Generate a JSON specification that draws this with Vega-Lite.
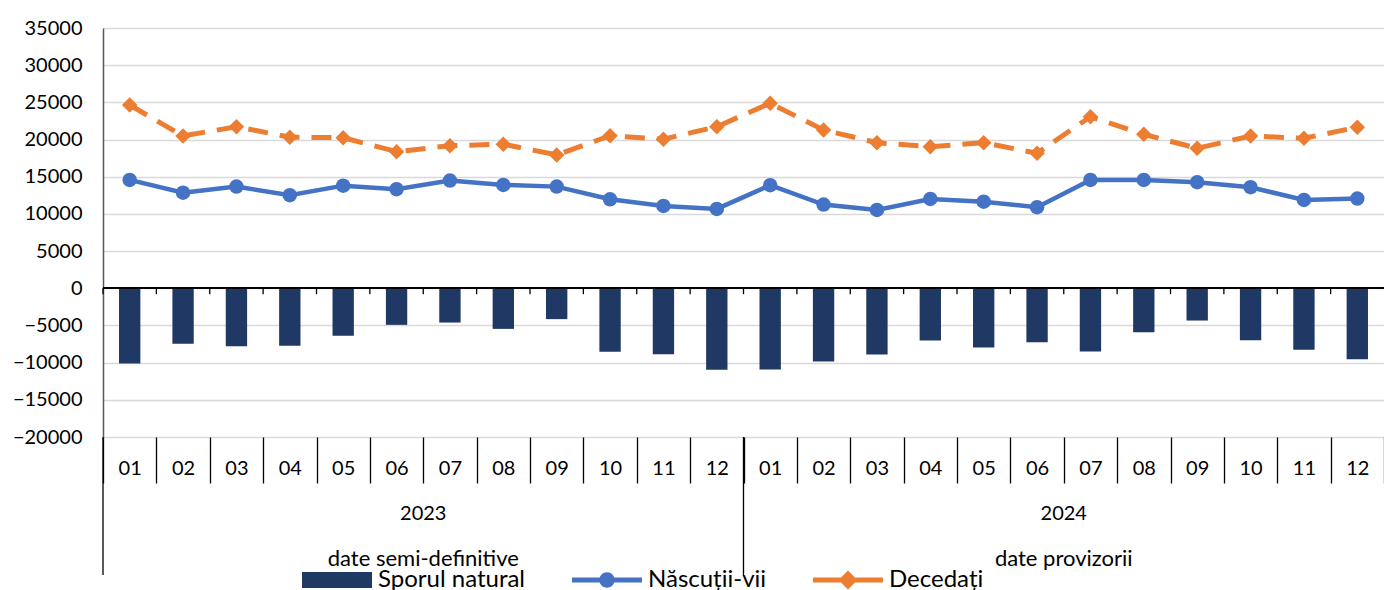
{
  "$schema": "https://vega.github.io/schema/vega-lite/v6.json",
  "width": 1281,
  "height": 409,
  "autosize": {"type": "none"},
  "padding": {"left": 103, "top": 28, "right": 0, "bottom": 153},
  "background": "white",
  "config": {
    "view": {"stroke": null},
    "font": "Lato",
    "scale": {"bandPaddingInner": 0, "bandPaddingOuter": 0},
    "axisX": {
      "domain": false, "grid": false, "ticks": true, "tickBand": "extent",
      "tickSize": 46, "tickColor": "#000000", "tickWidth": 1.3,
      "labelFontSize": 20, "labelColor": "#000000", "labelAngle": 0,
      "labelBaseline": "middle", "labelPadding": -15, "labelOverlap": false
    },
    "axisY": {
      "domain": true, "domainColor": "#595959", "domainWidth": 1.5,
      "ticks": false, "grid": true, "gridColor": "#d9d9d9", "gridWidth": 1.3,
      "labelFontSize": 20, "labelColor": "#000000", "labelPadding": 21,
      "labelOverlap": false, "labelBound": false, "tickCount": 12
    }
  },
  "datasets": {
    "monthly": [
      {"period": "2023-01", "spor": -10120, "nascuti": 14570, "decedati": 24650},
      {"period": "2023-02", "spor": -7470, "nascuti": 12860, "decedati": 20480},
      {"period": "2023-03", "spor": -7790, "nascuti": 13670, "decedati": 21730},
      {"period": "2023-04", "spor": -7740, "nascuti": 12510, "decedati": 20310},
      {"period": "2023-05", "spor": -6400, "nascuti": 13800, "decedati": 20250},
      {"period": "2023-06", "spor": -4920, "nascuti": 13320, "decedati": 18370},
      {"period": "2023-07", "spor": -4610, "nascuti": 14480, "decedati": 19180},
      {"period": "2023-08", "spor": -5460, "nascuti": 13900, "decedati": 19370},
      {"period": "2023-09", "spor": -4150, "nascuti": 13670, "decedati": 17930},
      {"period": "2023-10", "spor": -8550, "nascuti": 11970, "decedati": 20520},
      {"period": "2023-11", "spor": -8860, "nascuti": 11070, "decedati": 20040},
      {"period": "2023-12", "spor": -10970, "nascuti": 10670, "decedati": 21730},
      {"period": "2024-01", "spor": -10920, "nascuti": 13860, "decedati": 24880},
      {"period": "2024-02", "spor": -9850, "nascuti": 11250, "decedati": 21290},
      {"period": "2024-03", "spor": -8910, "nascuti": 10540, "decedati": 19580},
      {"period": "2024-04", "spor": -7030, "nascuti": 12010, "decedati": 19040},
      {"period": "2024-05", "spor": -7970, "nascuti": 11650, "decedati": 19580},
      {"period": "2024-06", "spor": -7250, "nascuti": 10900, "decedati": 18160},
      {"period": "2024-07", "spor": -8510, "nascuti": 14570, "decedati": 23080},
      {"period": "2024-08", "spor": -5900, "nascuti": 14570, "decedati": 20700},
      {"period": "2024-09", "spor": -4340, "nascuti": 14260, "decedati": 18830},
      {"period": "2024-10", "spor": -6980, "nascuti": 13590, "decedati": 20480},
      {"period": "2024-11", "spor": -8280, "nascuti": 11880, "decedati": 20170},
      {"period": "2024-12", "spor": -9530, "nascuti": 12060, "decedati": 21650}
    ],
    "groups": [
      {"year": "2023", "status": "date semi-definitive", "start": "2023-01", "mid": "2023-06"},
      {"year": "2024", "status": "date provizorii", "start": "2024-01", "mid": "2024-06"}
    ]
  },
  "layer": [
    {
      "data": {"name": "monthly"},
      "mark": {"type": "bar", "width": {"band": 0.4}, "color": "#203864"},
      "encoding": {
        "x": {"field": "period", "type": "ordinal", "title": null, "scale": {"type": "band", "paddingInner": 0, "paddingOuter": 0},
              "axis": {"labelExpr": "substring(datum.label, 5)", "tickBand": "extent"}},
        "y": {"field": "spor", "type": "quantitative", "title": null,
              "scale": {"domain": [-20000, 35000], "nice": false, "zero": false},
              "axis": {"values": [-20000, -15000, -10000, -5000, 0, 5000, 10000, 15000, 20000, 25000, 30000, 35000], "format": "d", "labelOverlap": false}},
        "color": {"datum": "Sporul natural", "type": "nominal",
          "scale": {"domain": ["Sporul natural", "Născuții-vii", "Decedați"], "range": ["#203864", "#4472C4", "#ED7D31"]},
          "legend": {
            "orient": "none", "legendX": 199, "legendY": 517, "direction": "horizontal",
            "title": null, "symbolSize": 4900, "labelFontSize": 24, "labelColor": "#000000",
            "labelOffset": 6, "columnPadding": 46, "padding": 0, "symbolStrokeWidth": 0,
            "encode": {"symbols": {"update": {
              "shape": {"signal": "datum.value === 'Sporul natural' ? 'M-1,-0.23H1V0.23H-1Z' : (datum.value === 'Născuții-vii' ? 'M-1,-0.07H1V0.07H-1Z M-0.22,0A0.22,0.22,0,1,1,0.22,0A0.22,0.22,0,1,1,-0.22,0Z' : 'M-1,-0.07H1V0.07H-1Z M-0.27,0L0,-0.27L0.27,0L0,0.27Z')"},
              "fill": {"scale": "color", "field": "value"},
              "strokeWidth": {"value": 0},
              "opacity": {"value": 1}
            }}}
          }}
      }
    },
    {
      "data": {"name": "monthly"},
      "mark": {"type": "rule", "color": "#000000", "strokeWidth": 1.5},
      "encoding": {"y": {"datum": 0, "type": "quantitative", "title": null,
        "axis": {"values": [-20000, -15000, -10000, -5000, 0, 5000, 10000, 15000, 20000, 25000, 30000, 35000], "format": "d", "labelOverlap": false}}}
    },
    {
      "data": {"name": "monthly"},
      "mark": {"type": "rule", "color": "#000000", "strokeWidth": 1.3},
      "encoding": {
        "x": {"field": "period", "type": "ordinal", "bandPosition": 0, "title": null, "axis": {"labelExpr": "substring(datum.label, 5)", "tickBand": "extent"}},
        "y": {"datum": 0, "type": "quantitative", "title": null,
          "axis": {"values": [-20000, -15000, -10000, -5000, 0, 5000, 10000, 15000, 20000, 25000, 30000, 35000], "format": "d", "labelOverlap": false}},
        "y2": {"datum": -800}
      }
    },
    {
      "data": {"name": "monthly"},
      "mark": {"type": "line", "strokeWidth": 4.5, "point": {"filled": true, "size": 210}},
      "encoding": {
        "x": {"field": "period", "type": "ordinal", "title": null, "axis": {"labelExpr": "substring(datum.label, 5)", "tickBand": "extent"}},
        "y": {"field": "nascuti", "type": "quantitative", "title": null,
          "axis": {"values": [-20000, -15000, -10000, -5000, 0, 5000, 10000, 15000, 20000, 25000, 30000, 35000], "format": "d", "labelOverlap": false}},
        "color": {"datum": "Născuții-vii", "type": "nominal"}
      }
    },
    {
      "data": {"name": "monthly"},
      "mark": {"type": "line", "strokeWidth": 5, "strokeDash": [20, 12], "point": {"filled": true, "size": 240, "shape": "diamond"}},
      "encoding": {
        "x": {"field": "period", "type": "ordinal", "title": null, "axis": {"labelExpr": "substring(datum.label, 5)", "tickBand": "extent"}},
        "y": {"field": "decedati", "type": "quantitative", "title": null,
          "axis": {"values": [-20000, -15000, -10000, -5000, 0, 5000, 10000, 15000, 20000, 25000, 30000, 35000], "format": "d", "labelOverlap": false}},
        "color": {"datum": "Decedați", "type": "nominal"}
      }
    },
    {
      "data": {"name": "groups"},
      "mark": {"type": "rule", "color": "#000000", "strokeWidth": 1.3},
      "encoding": {
        "x": {"field": "start", "type": "ordinal", "bandPosition": 0, "title": null, "axis": {"labelExpr": "substring(datum.label, 5)", "tickBand": "extent"}},
        "y": {"datum": -20000, "type": "quantitative", "title": null,
          "axis": {"values": [-20000, -15000, -10000, -5000, 0, 5000, 10000, 15000, 20000, 25000, 30000, 35000], "format": "d", "labelOverlap": false}},
        "y2": {"datum": -38550}
      }
    },
    {
      "data": {"name": "groups"},
      "mark": {"type": "text", "fontSize": 20, "color": "#000000", "align": "center", "baseline": "middle"},
      "encoding": {
        "x": {"field": "mid", "type": "ordinal", "bandPosition": 1, "title": null, "axis": {"labelExpr": "substring(datum.label, 5)", "tickBand": "extent"}},
        "y": {"datum": -30400, "type": "quantitative", "title": null,
          "axis": {"values": [-20000, -15000, -10000, -5000, 0, 5000, 10000, 15000, 20000, 25000, 30000, 35000], "format": "d", "labelOverlap": false}},
        "text": {"field": "year"}
      }
    },
    {
      "data": {"name": "groups"},
      "mark": {"type": "text", "fontSize": 22, "color": "#000000", "align": "center", "baseline": "middle"},
      "encoding": {
        "x": {"field": "mid", "type": "ordinal", "bandPosition": 1, "title": null, "axis": {"labelExpr": "substring(datum.label, 5)", "tickBand": "extent"}},
        "y": {"datum": -36400, "type": "quantitative", "title": null,
          "axis": {"values": [-20000, -15000, -10000, -5000, 0, 5000, 10000, 15000, 20000, 25000, 30000, 35000], "format": "d", "labelOverlap": false}},
        "text": {"field": "status"}
      }
    }
  ]
}
